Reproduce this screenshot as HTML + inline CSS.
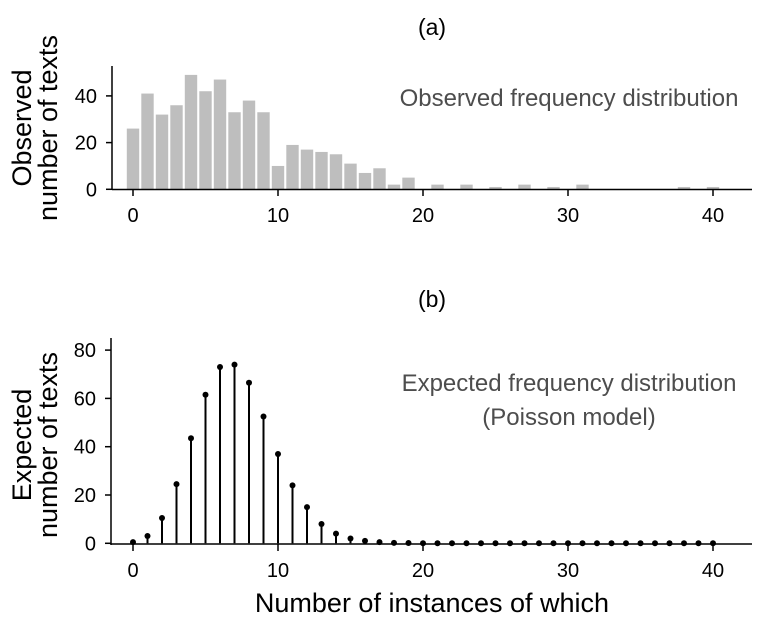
<!DOCTYPE html>
<html><head><meta charset="utf-8"><style>
body{margin:0;background:#fff;}
svg{font-family:"Liberation Sans",sans-serif;display:block;}
</style></head><body>
<svg id="c" width="768" height="633" xmlns="http://www.w3.org/2000/svg"></svg>
<script>
const obsX=[0,1,2,3,4,5,6,7,8,9,10,11,12,13,14,15,16,17,18,19,21,23,25,27,29,31,38,40];
const obsY=[26,41,32,36,49,42,47,33,38,33,10,19,17,16,15,11,7,9,2,5,2,2,1,2,1,2,1,1];
const expY=[0.5,3,10.5,24.5,43.5,61.5,73,74,66.5,52.5,37,24,15,8,4,2,1,0.5,0.2,0.1,0,0,0,0,0,0,0,0,0,0,0,0,0,0,0,0,0,0,0,0,0];
const xTicks=[0,10,20,30,40];
const yTicksA=[0,20,40];
const yTicksB=[0,20,40,60,80];
const svg=document.getElementById('c');const NS='http://www.w3.org/2000/svg';
function mk(t,a,txt){const e=document.createElementNS(NS,t);for(const k in a)e.setAttribute(k,a[k]);if(txt!==undefined)e.textContent=txt;svg.appendChild(e);return e;}
const xs=v=>133+v*14.5;
const yA=v=>189.3-v*2.335;
const yB=v=>543.3-v*2.415;
let e;
e=mk('text',{x:432,y:35,'font-size':23,'text-anchor':'middle'},'(a)');

obsX.forEach((x,i)=>{const b=mk('rect',{x:xs(x)-6.2,y:yA(obsY[i]),width:12.4,height:obsY[i]*2.335,fill:'#bebebe'});
});
e=mk('line',{x1:112,y1:189.5,x2:752,y2:189.5,stroke:'#000','stroke-width':1.5});
e=mk('line',{x1:112,y1:66,x2:112,y2:190,stroke:'#000','stroke-width':1.5});
xTicks.forEach(t=>{mk('line',{x1:xs(t),y1:190,x2:xs(t),y2:196,stroke:'#000','stroke-width':1.5});
e=mk('text',{x:xs(t),y:222,'font-size':20,'text-anchor':'middle'},t);});
yTicksA.forEach(t=>{mk('line',{x1:106,y1:yA(t),x2:112,y2:yA(t),stroke:'#000','stroke-width':1.5});
e=mk('text',{x:97,y:yA(t)+7,'font-size':20,'text-anchor':'end'},t);});
e=mk('text',{x:569,y:106,'font-size':24,'text-anchor':'middle',fill:'#4d4d4d'},'Observed frequency distribution');
e=mk('text',{transform:'translate(31,128) rotate(-90)','font-size':27,'text-anchor':'middle'},'Observed');
mk('text',{transform:'translate(57,128) rotate(-90)','font-size':27,'text-anchor':'middle'},'number of texts');
e=mk('text',{x:432,y:307,'font-size':23,'text-anchor':'middle'},'(b)');
expY.forEach((v,i)=>{mk('line',{x1:xs(i),y1:yB(0),x2:xs(i),y2:yB(v),stroke:'#000','stroke-width':2});
const c=mk('circle',{cx:xs(i),cy:yB(v),r:3,fill:'#000'});});
e=mk('line',{x1:111,y1:544,x2:752,y2:544,stroke:'#000','stroke-width':1.5});
e=mk('line',{x1:111,y1:338,x2:111,y2:545,stroke:'#000','stroke-width':1.5});
xTicks.forEach(t=>{mk('line',{x1:xs(t),y1:544,x2:xs(t),y2:551,stroke:'#000','stroke-width':1.5});
e=mk('text',{x:xs(t),y:577,'font-size':20,'text-anchor':'middle'},t);});
yTicksB.forEach(t=>{mk('line',{x1:105,y1:yB(t),x2:111,y2:yB(t),stroke:'#000','stroke-width':1.5});
e=mk('text',{x:96,y:yB(t)+7,'font-size':20,'text-anchor':'end'},t);});
e=mk('text',{x:569,y:391,'font-size':24,'text-anchor':'middle',fill:'#4d4d4d'},'Expected frequency distribution');
mk('text',{x:569,y:425,'font-size':24,'text-anchor':'middle',fill:'#4d4d4d'},'(Poisson model)');
e=mk('text',{transform:'translate(31,445) rotate(-90)','font-size':27,'text-anchor':'middle'},'Expected');
mk('text',{transform:'translate(57,445) rotate(-90)','font-size':27,'text-anchor':'middle'},'number of texts');
e=mk('text',{x:432,y:612,'font-size':27,'text-anchor':'middle'},'Number of instances of which');
</script>
</body></html>
